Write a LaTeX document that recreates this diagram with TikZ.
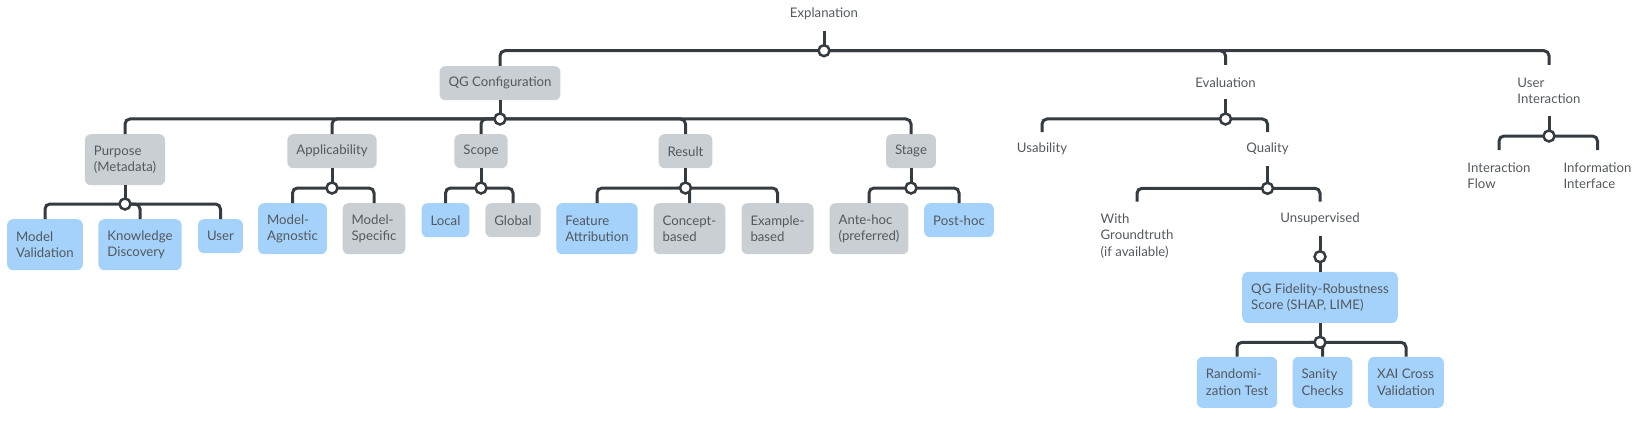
\documentclass[tikz,border=0pt]{standalone}
\usepackage{fontspec}
\setmainfont{Lato}
\definecolor{boxgrey}{HTML}{C9CFD2}
\definecolor{boxblue}{HTML}{A4D2FB}
\definecolor{linec}{HTML}{343C42}
\definecolor{txtc}{HTML}{53595E}
\begin{document}
\begin{tikzpicture}[x=1pt,y=-1pt,
  base/.style={rounded corners=6pt, align=left, inner xsep=9pt, inner ysep=2pt, minimum height=34pt, text=txtc, font=\fontsize{13.2}{16.5}\selectfont, anchor=north},
  gbox/.style={base, fill=boxgrey},
  bbox/.style={base, fill=boxblue},
  plain/.style={base},
  two/.style={minimum height=51pt},
  three/.style={minimum height=68pt},
  conn/.style={draw=linec, line width=3pt, rounded corners=5pt},
  junc/.style={circle, draw=linec, fill=white, line width=2.5pt, minimum size=11pt, inner sep=0pt},
]
\path[use as bounding box] (0,0) rectangle (1645,425);

% nodes
\node[plain, anchor=center] (expl) at (824,14) {Explanation};
\node[gbox] (qg) at (500,66) {QG Configuration};
\node[plain] (eval) at (1225.5,65) {Evaluation};
\node[plain, two] (ui) at (1549,65) {User\\Interaction};

\node[gbox, two] (purpose) at (125,134) {Purpose\\(Metadata)};
\node[gbox] (applic) at (332,134) {Applicability};
\node[gbox] (scope) at (481,134) {Scope};
\node[gbox] (result) at (685.5,134) {Result};
\node[gbox] (stage) at (911,134) {Stage};

\node[bbox, two] (mval) at (45,219) {Model\\Validation};
\node[bbox, two] (kdisc) at (140,219) {Knowledge\\Discovery};
\node[bbox] (user) at (220.5,219) {User};

\node[bbox, two] (magn) at (292.5,203) {Model-\\Agnostic};
\node[gbox, two] (mspec) at (374,203) {Model-\\Specific};

\node[bbox] (local) at (445.5,203) {Local};
\node[gbox] (global) at (513,203) {Global};

\node[bbox, two] (feat) at (597,203) {Feature\\Attribution};
\node[gbox, two] (concept) at (689.5,203) {Concept-\\based};
\node[gbox, two] (example) at (777.5,203) {Example-\\based};

\node[gbox, two] (ante) at (869,203) {Ante-hoc\\(preferred)};
\node[bbox] (post) at (959,203) {Post-hoc};

\node[plain] (usab) at (1042,132) {Usability};
\node[plain] (quality) at (1267.5,132) {Quality};

\node[plain, three] (gt) at (1137,201.7) {With\\Groundtruth\\(if available)};
\node[plain] (unsup) at (1320,201.7) {Unsupervised};

\node[bbox, two] (qgf) at (1320,271.7) {QG Fidelity-Robustness\\Score (SHAP, LIME)};

\node[bbox, two] (rand) at (1237,356.7) {Randomi-\\zation Test};
\node[bbox, two] (sanity) at (1322.5,356.7) {Sanity\\Checks};
\node[bbox, two] (xai) at (1406,356.7) {XAI Cross\\Validation};

\node[plain, two] (iflow) at (1499,150) {Interaction\\Flow};
\node[plain, two] (iinter) at (1597.5,150) {Information\\Interface};

% junctions
\coordinate (j0) at (824,50.7);
\coordinate (j1) at (500,119);
\coordinate (j2) at (125,204);
\coordinate (j3) at (332,188);
\coordinate (j4) at (481,188);
\coordinate (j5) at (685.5,188);
\coordinate (j6) at (911,188);
\coordinate (j7) at (1225.5,119);
\coordinate (j8) at (1267.5,188.3);
\coordinate (j9) at (1320,256.7);
\coordinate (j10) at (1320,342.3);
\coordinate (j11) at (1549,136);

% connectors
\draw[conn] (expl.south) -- (j0);
\foreach \c in {qg,eval,ui} \draw[conn] (j0) -| (\c.north);
\draw[conn] (qg.south) -- (j1);
\foreach \c in {purpose,applic,scope,result,stage} \draw[conn] (j1) -| (\c.north);
\draw[conn] (purpose.south) -- (j2);
\foreach \c in {mval,kdisc,user} \draw[conn] (j2) -| (\c.north);
\draw[conn] (applic.south) -- (j3);
\foreach \c in {magn,mspec} \draw[conn] (j3) -| (\c.north);
\draw[conn] (scope.south) -- (j4);
\foreach \c in {local,global} \draw[conn] (j4) -| (\c.north);
\draw[conn] (result.south) -- (j5);
\foreach \c in {feat,concept,example} \draw[conn] (j5) -| (\c.north);
\draw[conn] (stage.south) -- (j6);
\foreach \c in {ante,post} \draw[conn] (j6) -| (\c.north);
\draw[conn] (eval.south) -- (j7);
\foreach \c in {usab,quality} \draw[conn] (j7) -| (\c.north);
\draw[conn] (quality.south) -- (j8);
\foreach \c in {gt,unsup} \draw[conn] (j8) -| (\c.north);
\draw[conn] (unsup.south) -- (j9) -- (qgf.north);
\draw[conn] (qgf.south) -- (j10);
\foreach \c in {rand,sanity,xai} \draw[conn] (j10) -| (\c.north);
\draw[conn] (ui.south) -- (j11);
\foreach \c in {iflow,iinter} \draw[conn] (j11) -| (\c.north);

% junction circles
\foreach \j in {j0,j1,j2,j3,j4,j5,j6,j7,j8,j9,j10,j11}
  \node[junc] (c\j) at (\j) {};
\end{tikzpicture}
\end{document}
